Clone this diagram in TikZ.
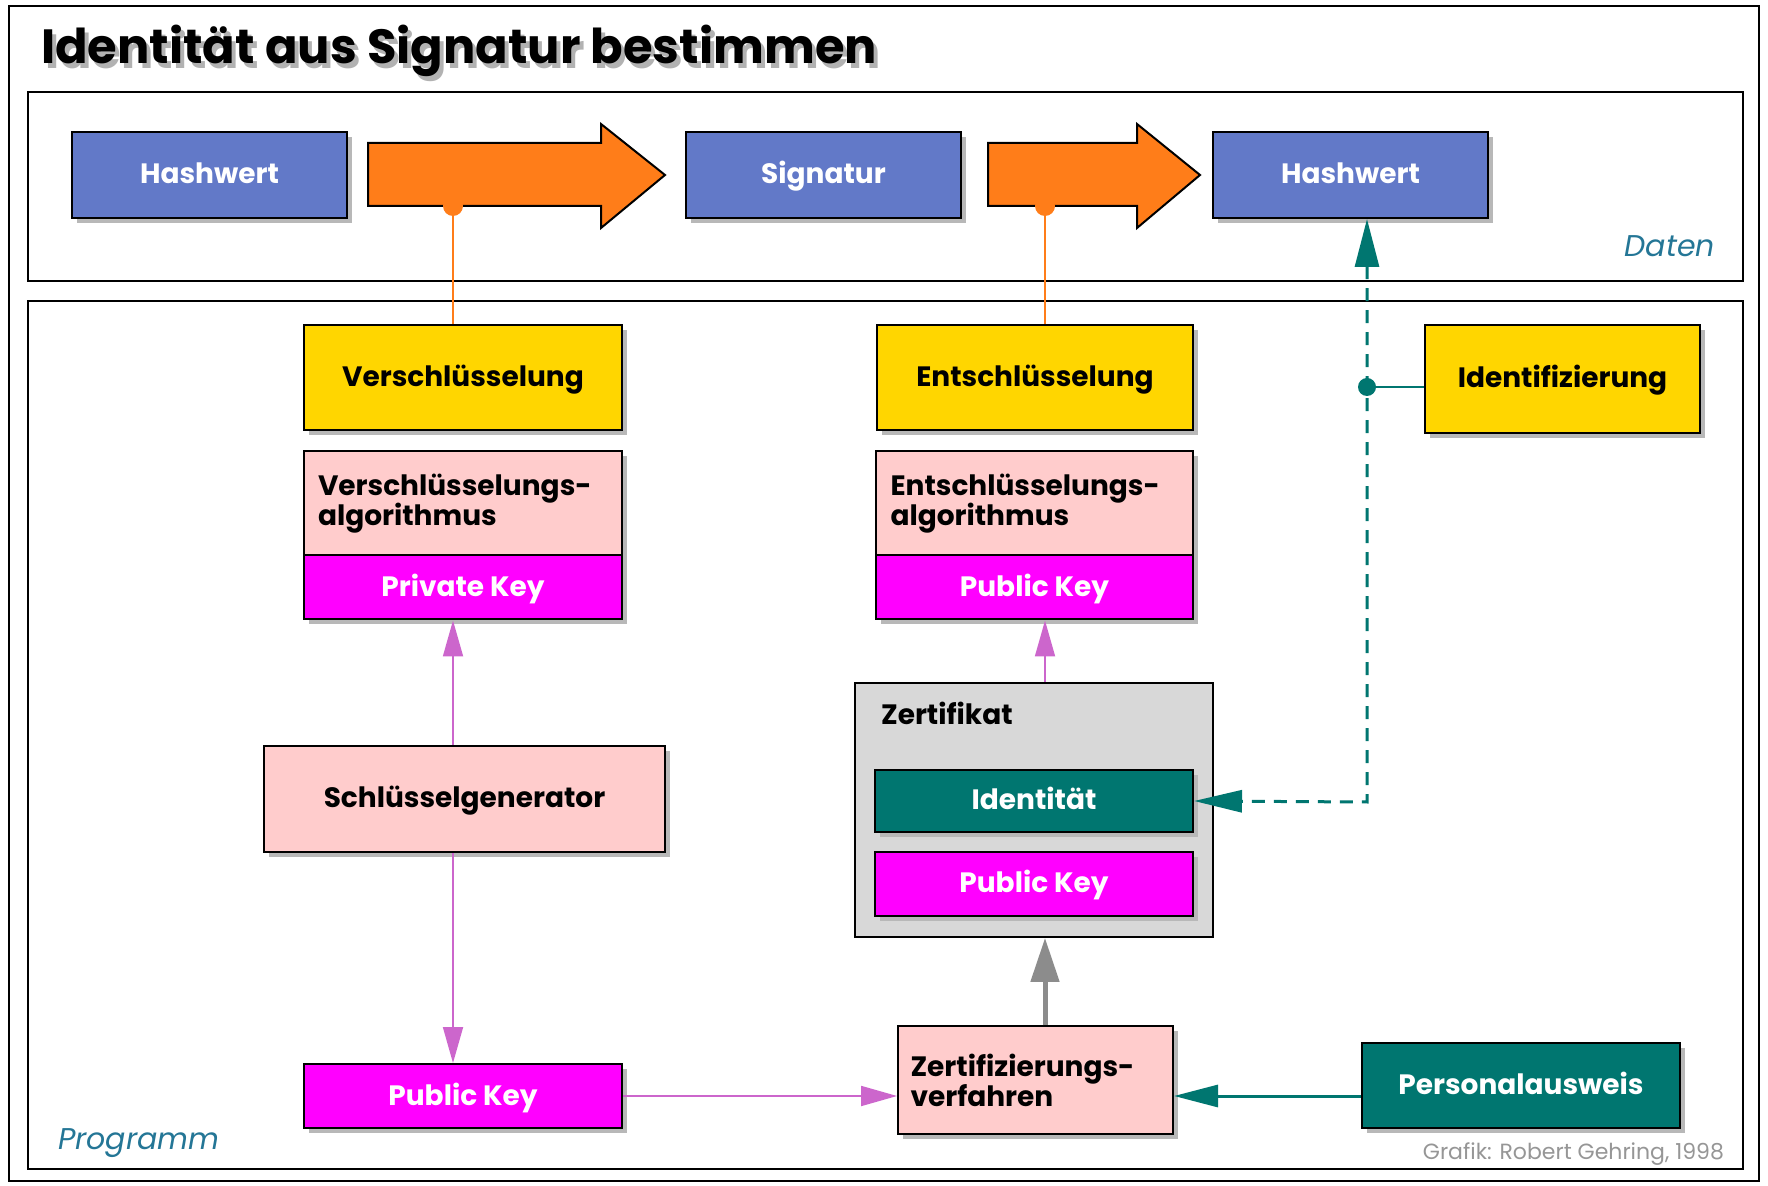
\documentclass[tikz,border=0pt]{standalone}
\usepackage{fontspec}
\setmainfont{Poppins}
\usetikzlibrary{shadows,arrows.meta,calc}

\definecolor{hashblue}{RGB}{98,121,200}
\definecolor{flow}{RGB}{255,125,25}
\definecolor{procyellow}{RGB}{255,214,0}
\definecolor{algpink}{RGB}{255,204,204}
\definecolor{keymag}{RGB}{255,0,255}
\definecolor{idteal}{RGB}{0,118,112}
\definecolor{certgray}{RGB}{216,216,216}
\definecolor{linkmag}{RGB}{204,102,204}
\definecolor{areateal}{RGB}{36,118,150}
\definecolor{credit}{RGB}{150,150,150}

\tikzset{
  boxbase/.style={draw=black, line width=1pt, inner sep=0pt,
    general shadow={fill=black!28, shadow xshift=2.5pt, shadow yshift=-2.5pt},
    font=\fontsize{14}{17}\selectfont\bfseries},
  oneline/.style={text height=10.5pt, text depth=1.5pt},
  databox/.style={boxbase, oneline, fill=hashblue, text=white, minimum width=137.5pt, minimum height=43pt},
  procbox/.style={boxbase, oneline, fill=procyellow, minimum height=52.5pt},
  algbox/.style={boxbase, fill=algpink, minimum height=52.5pt, align=left},
  keybox/.style={boxbase, oneline, fill=keymag, text=white, minimum width=159pt, minimum height=32pt},
  idbox/.style={boxbase, oneline, fill=idteal, text=white},
  framebox/.style={draw=black, line width=1pt},
  maglink/.style={draw=linkmag, line width=0.9pt, -{Triangle[width=10pt,length=18pt]}},
  teallink/.style={draw=idteal, line width=1.5pt},
  areatag/.style={text=areateal, font=\fontsize{15}{18}\selectfont\itshape},
}

\begin{document}
\begin{tikzpicture}[x=0.5pt, y=-0.5pt]
\useasboundingbox (0,0) rectangle (1768,1186);
\fill[white] (0,0) rectangle (1768,1186);

% frames
\draw[framebox] (9,6) rectangle (1759,1181);
\draw[framebox] (28,92) rectangle (1743,281);
\draw[framebox] (28,301) rectangle (1743,1169);

% heading with its shadow
\node[anchor=base west, text=black!30, font=\fontsize{24}{28}\selectfont\bfseries]
  (titleshadow) at (38,69) {Identität aus Signatur bestimmen};
\node[anchor=base west, font=\fontsize{24}{28}\selectfont\bfseries]
  (title) at (34,64) {Identität aus Signatur bestimmen};

% data row
\node[databox] (hash1) at (209.5,175) {Hashwert};
\node[databox] (sig) at (823.5,175) {Signatur};
\node[databox] (hash2) at (1350.5,175) {Hashwert};

\draw[fill=flow, line width=1pt] (368,143) -- (601,143) -- (601,124) -- (665,175)
  -- (601,228) -- (601,206) -- (368,206) -- cycle;
\draw[fill=flow, line width=1pt] (988,143) -- (1137,143) -- (1137,124) -- (1200,175)
  -- (1137,228) -- (1137,206) -- (988,206) -- cycle;
\coordinate (dot1) at (453,206);
\coordinate (dot2) at (1045,206);

\node[areatag, anchor=base east] (daten) at (1722,257) {Daten};

% program area
\node[procbox, minimum width=159pt] (ver) at (463,377.5) {Verschlüsselung};
\node[algbox, minimum width=159pt, text width=145pt] (veralg) at (463,503.5)
  {Verschlüsselungs-\\[-2pt]algorithmus};
\node[keybox] (privkey) at (463,587.5) {Private Key};

\node[boxbase, oneline, fill=algpink, minimum width=200.5pt, minimum height=53pt] (keygen) at (464.5,799) {Schlüsselgenerator};
\node[keybox] (pub1) at (463,1096) {Public Key};

\node[procbox, minimum width=158pt] (ent) at (1035,377.5) {Entschlüsselung};
\node[algbox, minimum width=158.5pt, text width=144pt] (entalg) at (1034.5,503.5)
  {Entschlüsselungs-\\[-2pt]algorithmus};
\node[keybox, minimum width=158.5pt] (pub2) at (1034.5,587.5) {Public Key};

\node[draw=black, line width=1pt, fill=certgray, minimum width=179pt, minimum height=127pt] (cert) at (1034,810) {};
\node[anchor=base west, font=\fontsize{14}{17}\selectfont\bfseries] (certlabel) at (874,725) {Zertifikat};
\node[idbox, minimum width=159pt, minimum height=31pt] (ident) at (1034,801) {Identität};
\node[keybox] (pub3) at (1034,884) {Public Key};

\node[algbox, minimum width=137.5pt, text width=125pt, minimum height=54pt] (zv) at (1035.5,1080)
  {Zertifizierungs-\\[-2pt]verfahren};
\node[idbox, minimum width=159pt, minimum height=42.5pt] (pa) at (1521,1085.5) {Personalausweis};

\node[procbox, minimum width=137.5pt, minimum height=54pt] (identfy) at (1562.5,379) {Identifizierung};

\node[areatag, anchor=base west] (programm) at (51,1149) {Programm};
\node[anchor=base east, text=credit, font=\fontsize{11}{13}\selectfont] (credit) at (1731,1159)
  {Grafik: Robert Gehring, 1998};

% encryption steps attached to the data flow arrows
\draw[draw=flow, line width=1pt] (dot1) -- (dot1 |- ver.north);
\fill[flow] (dot1) circle (5pt);
\draw[draw=flow, line width=1pt] (dot2) -- (dot2 |- ent.north);
\fill[flow] (dot2) circle (5pt);

% key paths
\draw[maglink] (keygen.north -| dot1) -- (privkey.south -| dot1);
\draw[maglink] (keygen.south -| dot1) -- (pub1.north -| dot1);
\draw[maglink] (pub1.east) -- (zv.west |- pub1.east);
\draw[maglink] (cert.north -| dot2) -- (pub2.south -| dot2);
\draw[draw=black!45, line width=2.5pt, -{Triangle[width=14pt,length=22pt]}] (zv.north -| dot2) -- (cert.south -| dot2);

% identity check
\draw[teallink, -{Triangle[width=11pt,length=22pt]}] (pa.west |- pub1.east) -- (zv.east |- pub1.east);
\coordinate (bend) at (1367,802);
\coordinate (tap) at (1367,387);
\draw[teallink, dash pattern=on 6.5pt off 4.5pt,
  {Triangle[width=12pt,length=24pt]}-{Triangle[width=11pt,length=24pt]}]
  (bend |- hash2.south) -- (bend) -- (ident.east);
\draw[teallink, line width=1pt] (tap) -- (identfy.west |- tap);
\fill[idteal] (tap) circle (4.5pt);
\end{tikzpicture}
\end{document}
